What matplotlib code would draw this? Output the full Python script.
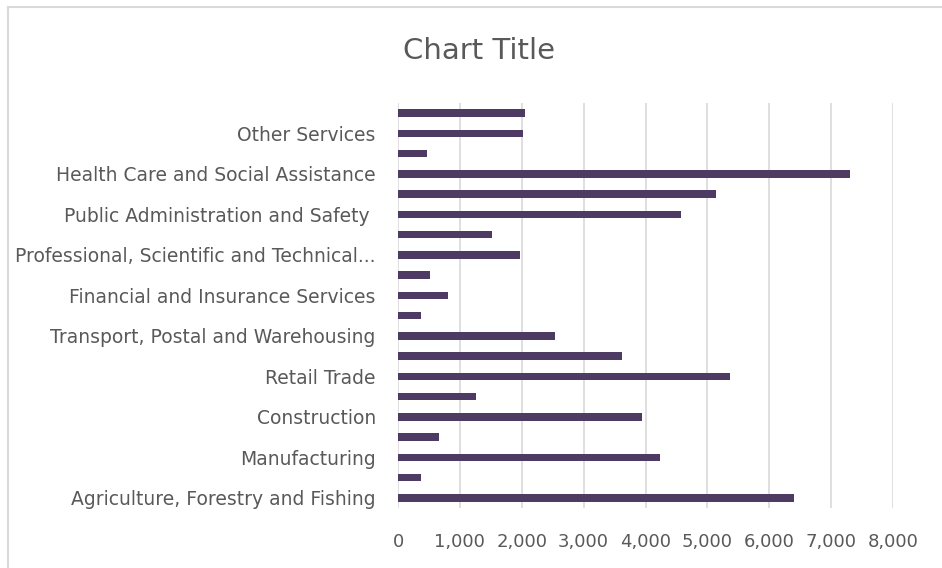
import numpy as np
import matplotlib.pyplot as plt
from matplotlib.ticker import FuncFormatter
from matplotlib.lines import Line2D

# categorias de abajo hacia arriba
industrias = [
    "Agriculture, Forestry and Fishing",
    "Mining",
    "Manufacturing",
    "Electricity, Gas, Water and Waste Services",
    "Construction",
    "Wholesale Trade",
    "Retail Trade",
    "Accommodation and Food Services",
    "Transport, Postal and Warehousing",
    "Information Media and Telecommunications",
    "Financial and Insurance Services",
    "Rental, Hiring and Real Estate Services",
    "Professional, Scientific and Technical...",
    "Administrative and Support Services",
    "Public Administration and Safety ",
    "Education and Training",
    "Health Care and Social Assistance",
    "Arts and Recreation Services",
    "Other Services",
    "Inadequately described",
]
valores = [6400, 365, 4235, 670, 3950, 1260, 5365, 3625, 2535, 365,
           815, 510, 1965, 1525, 4580, 5145, 7310, 470, 2015, 2060]
ticks_x = [0, 1000, 2000, 3000, 4000, 5000, 6000, 7000, 8000]

gris = '#595959'
plt.rcParams['font.family'] = ['DejaVu Sans']

fig = plt.figure(figsize=(9.42, 5.68), dpi=100)
ax = fig.add_axes([398/942, 60/568, 495/942, 405/568])

y = np.arange(len(industrias))
ax.barh(y, valores, height=0.36, color='#4E3B63', zorder=3)

ax.set_xlim(0, 8000)
ax.set_ylim(-0.5, len(industrias) - 0.5)
ax.set_xticks(ticks_x)
ax.xaxis.set_major_formatter(FuncFormatter(lambda v, p: f"{int(v):,}"))
ax.set_yticks(y)
# solo se muestra una etiqueta de cada dos
ax.set_yticklabels([n if i % 2 == 0 else "" for i, n in enumerate(industrias)])
ax.tick_params(axis='y', length=0, pad=16, labelsize=13.5, labelcolor=gris)
ax.tick_params(axis='x', length=0, pad=18, labelsize=13, labelcolor=gris)
ax.grid(axis='x', color='#D9D9D9', linewidth=1.2, zorder=0)
for s in ax.spines.values():
    s.set_visible(False)

fig.text(479/942, 1 - 51/568, "Chart Title", ha='center', va='center',
         fontsize=21, color=gris)

# borde del area del grafico
fig.add_artist(Line2D([8/942, 8/942], [0, 1 - 7/568], color='#D9D9D9', linewidth=1.5))
fig.add_artist(Line2D([8/942, 1], [1 - 7/568, 1 - 7/568], color='#D9D9D9', linewidth=1.5))

plt.savefig("out.png", dpi=100)
